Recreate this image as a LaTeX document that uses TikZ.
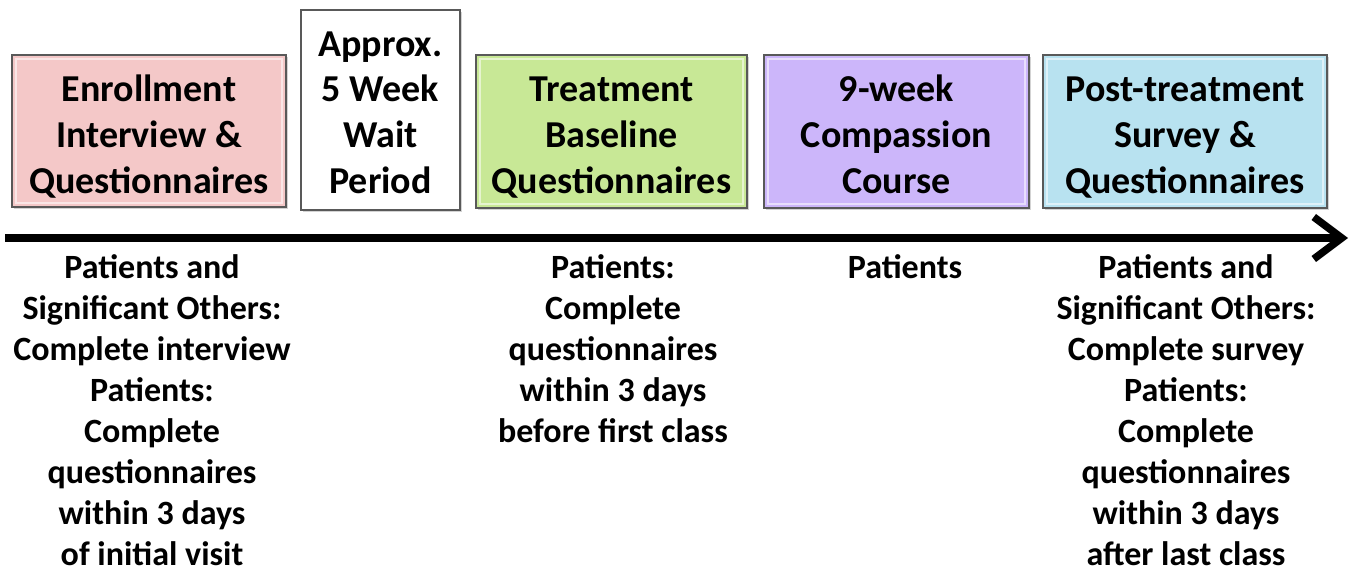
\documentclass[tikz,border=0pt]{standalone}
\usepackage{fontspec}
\setmainfont{Carlito}
\usepackage{tikz}
\usetikzlibrary{arrows.meta}
\usetikzlibrary{shadows}

\definecolor{EnrollPink}{RGB}{244,200,200}
\definecolor{BaseGreen}{RGB}{200,232,150}
\definecolor{CoursePurple}{RGB}{204,182,250}
\definecolor{PostBlue}{RGB}{184,226,240}

\tikzset{
  stagebox/.style={draw=black!65, line width=1.6pt, align=center, inner sep=0pt,
     font=\fontsize{38}{46}\selectfont\bfseries,
     text height=125pt, text depth=0pt,
     drop shadow={opacity=0.35, shadow xshift=2pt, shadow yshift=-2pt},
     path picture={\draw[white, opacity=0.55, line width=2pt]
        ([shift={(4pt,-4pt)}]path picture bounding box.north west) rectangle
        ([shift={(-4pt,4pt)}]path picture bounding box.south east);}},
  notetext/.style={align=center, anchor=north, inner sep=0pt,
     font=\fontsize{34}{41}\selectfont\bfseries}
}

\begin{document}
\begin{tikzpicture}[x=1pt, y=1pt]
   \useasboundingbox (0,0) rectangle (1355,-572);

   % stage boxes
   \node (enroll) at (149,-131) [stagebox, fill=EnrollPink,
      minimum width=274pt, minimum height=152pt]
      {Enrollment\\Interview \&\\Questionnaires};
   \node (wait) at (380.5,-110) [stagebox, fill=white, text height=168pt,
      minimum width=159pt, minimum height=200pt]
      {Approx.\\5 Week\\Wait\\Period};
   \node (baseline) at (611.5,-131.5) [stagebox, fill=BaseGreen,
      minimum width=271pt, minimum height=153pt]
      {Treatment\\Baseline\\Questionnaires};
   \node (course) at (896.5,-131.5) [stagebox, fill=CoursePurple,
      minimum width=265pt, minimum height=153pt]
      {9-week\\Compassion\\Course};
   \node (post) at (1185,-131.5) [stagebox, fill=PostBlue,
      minimum width=284pt, minimum height=153pt]
      {Post-treatment\\Survey \&\\Questionnaires};

   % time line
   \coordinate (start) at (5,-238);
   \coordinate (end) at (1348,-238);
   \draw [line width=7.5pt, -{Straight Barb[length=28pt, width=42pt]}] (start) -- (end);

   % notes below the line
   \node (enrollnote) at (152,-254) [notetext]
      {Patients and\\Significant Others:\\Complete interview\\Patients:\\Complete\\questionnaires\\within 3 days\\of initial visit};
   \node (baselinenote) at (613,-254) [notetext]
      {Patients:\\Complete\\questionnaires\\within 3 days\\before first class};
   \node (coursenote) at (905,-254) [notetext] {Patients};
   \node (postnote) at (1186,-254) [notetext]
      {Patients and\\Significant Others:\\Complete survey\\Patients:\\Complete\\questionnaires\\within 3 days\\after last class};
\end{tikzpicture}
\end{document}
